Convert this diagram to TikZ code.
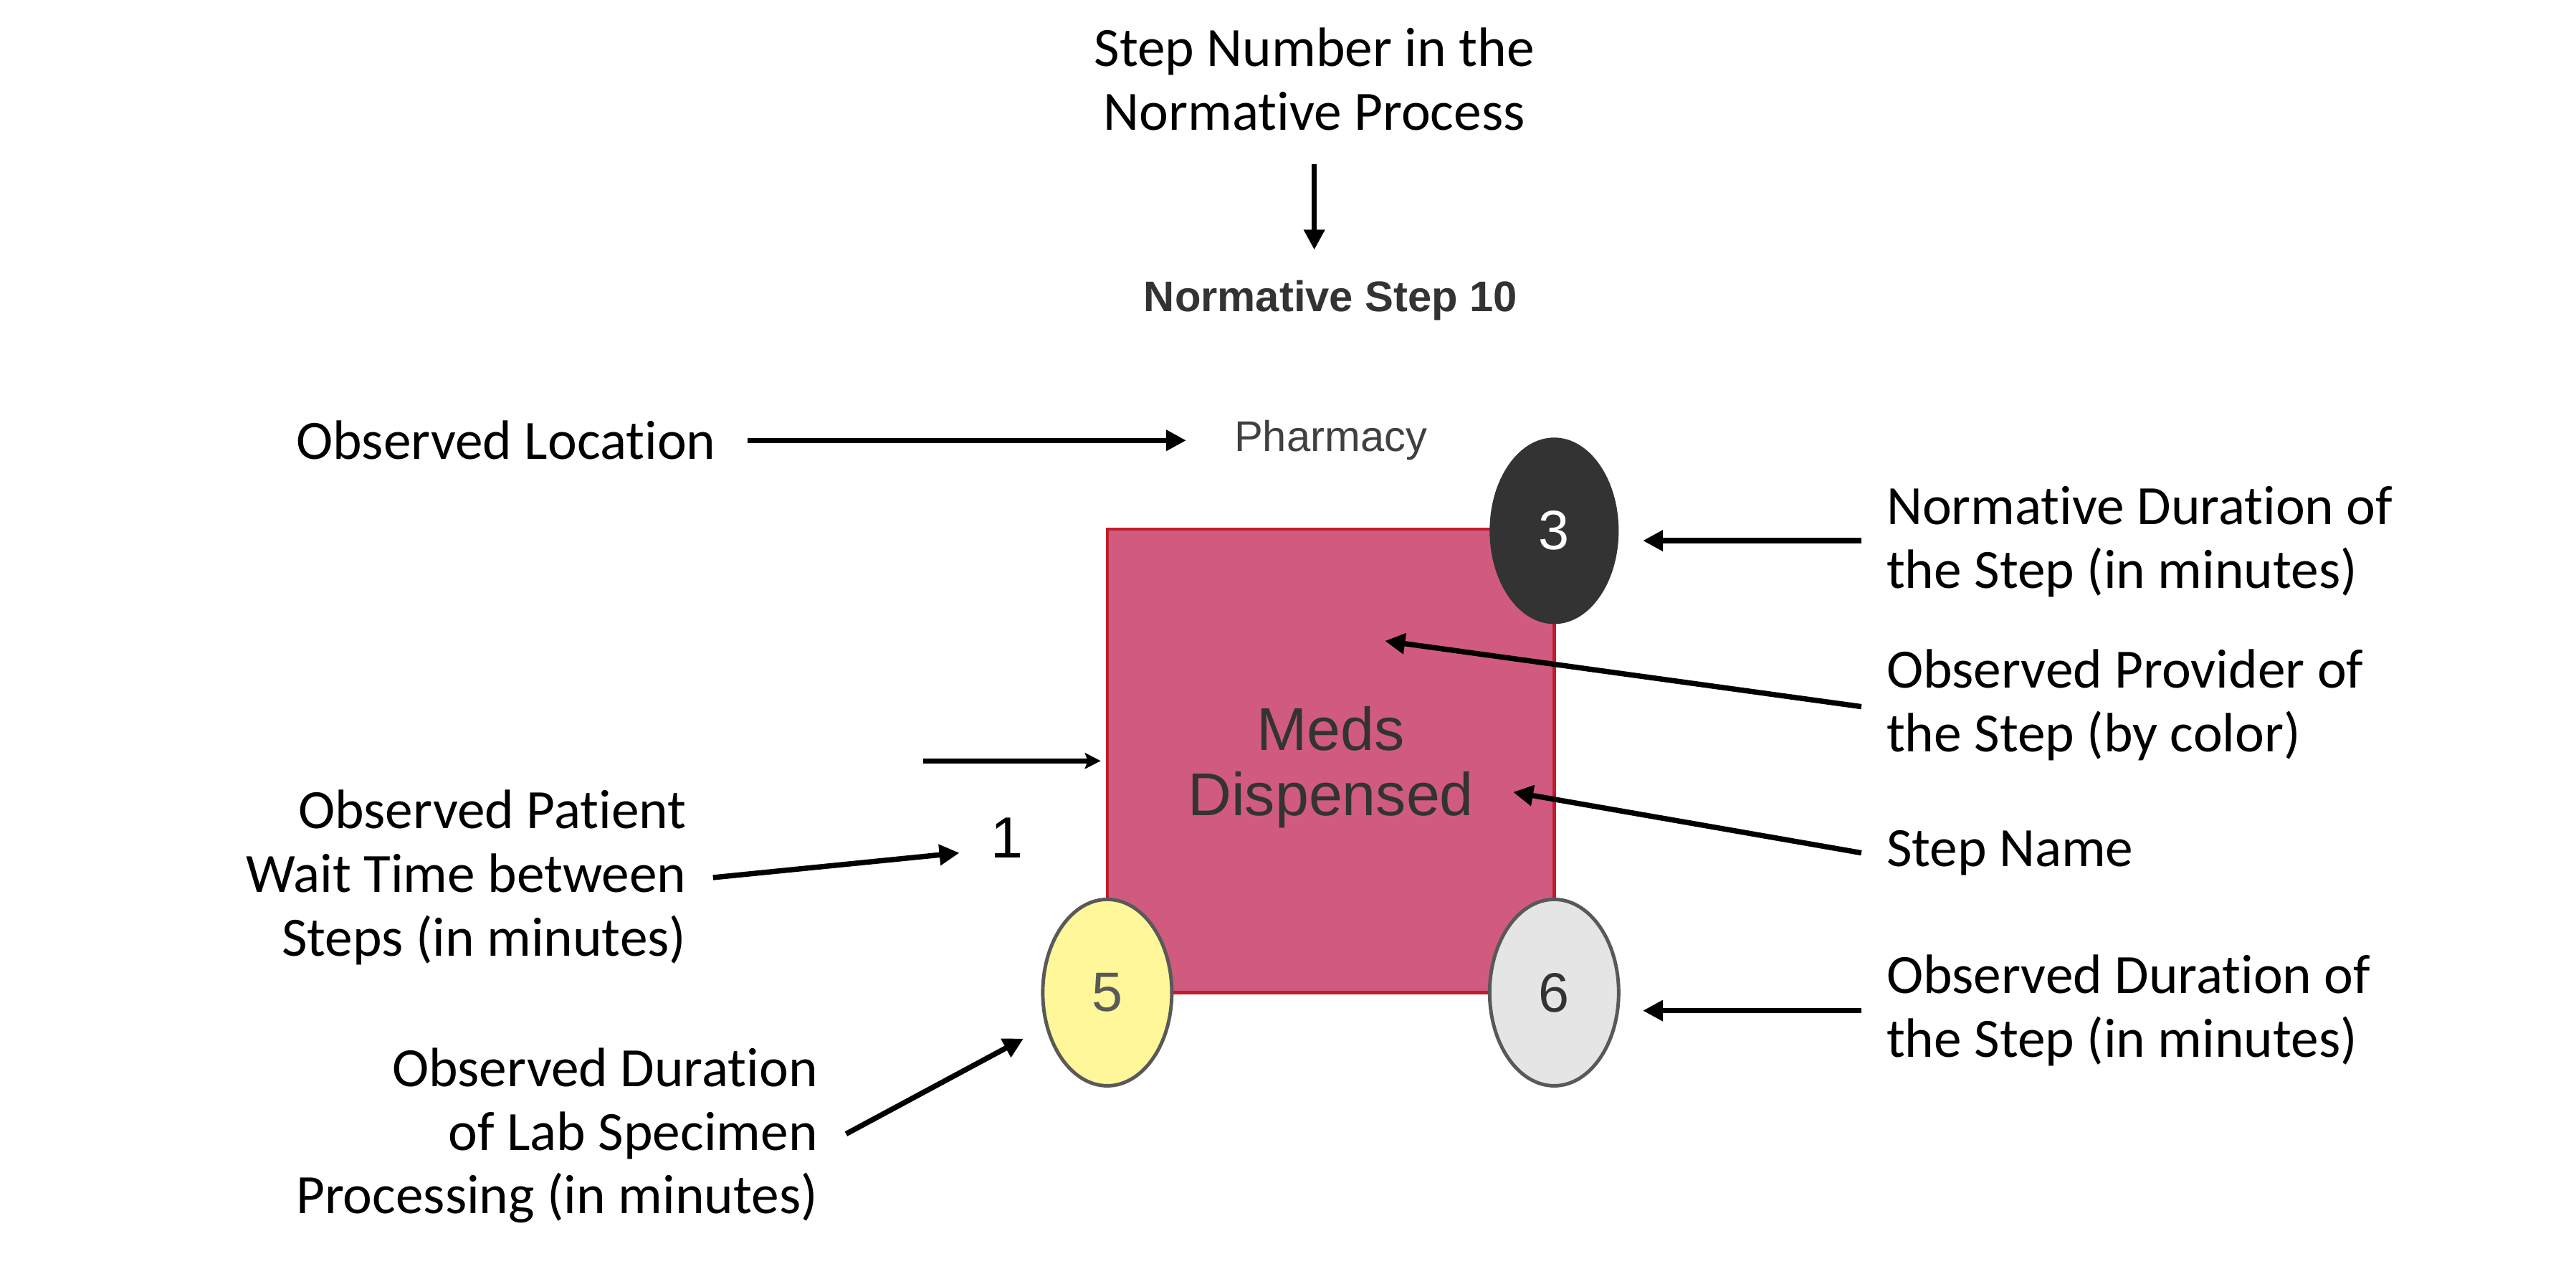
\documentclass[tikz,border=0pt]{standalone}
\usepackage{fontspec}
\setmainfont{Carlito}[RawFeature={-liga,-clig,-dlig,-calt}]
\newfontfamily\arialf{Liberation Sans}
\usetikzlibrary{arrows.meta,shapes.geometric}
\definecolor{boxfill}{HTML}{D05B7F}
\definecolor{boxline}{HTML}{BE1E2D}
\definecolor{darkell}{HTML}{333333}
\definecolor{yellell}{HTML}{FFF799}
\definecolor{grayell}{HTML}{E5E5E5}
\definecolor{ellline}{HTML}{595959}
\definecolor{txtdark}{HTML}{333333}
\definecolor{txtgray}{HTML}{404040}
\begin{document}
\begin{tikzpicture}[x=0.02292cm,y=-0.02292cm,
  lbl/.style={inner sep=0pt, font=\fontsize{22}{25.3}\selectfont, text=black},
  arr/.style={line width=2.1pt, draw=black, -{Triangle[length=0.28cm,width=0.28cm]}},
  thinarr/.style={line width=1.9pt, draw=black, -{Stealth[length=0.22cm,width=0.22cm,inset=0.04cm]}},
  stepbox/.style={rectangle, draw=boxline, fill=boxfill, line width=1.3pt,
     minimum width=6.234cm, minimum height=6.463cm, inner sep=0pt},
  ell/.style={ellipse, minimum width=1.80cm, minimum height=2.60cm, inner sep=0pt,
     font=\arialf\fontsize{22}{24}\selectfont},
]
\useasboundingbox (0,0) rectangle (1568,769);

% main box and corner ellipses
\node[stepbox] (box) at (810,463) {};
\node[inner sep=0pt, font=\arialf\fontsize{24}{26}\selectfont, text=txtdark, align=center] (bname) at (810,467) {Meds\\Dispensed};
\node[ell, fill=darkell, text=white] (e3) at (946,323) {3};
\node[ell, fill=yellell, draw=ellline, line width=1.4pt, text=ellline] (e5) at (674,604) {5};
\node[ell, fill=grayell, draw=ellline, line width=1.4pt, text=txtdark] (e6) at (946,604) {6};

% texts of the step
\node[inner sep=0pt, font=\arialf\bfseries\fontsize{17}{20}\selectfont, text=txtdark] (nstep) at (810,183) {Normative Step 10};
\node[inner sep=0pt, font=\arialf\fontsize{17}{20}\selectfont, text=txtgray] (pharm) at (810,268) {Pharmacy};
\node[inner sep=0pt, font=\arialf\fontsize{23}{26}\selectfont, text=black] (wait) at (613,510) {1};

% labels
\node[lbl, align=center] (stepnum) at (800,48) {Step Number in the\\Normative Process};
\node[lbl, anchor=west] (obsloc) at (180,268) {Observed Location};
\node[lbl, anchor=west, align=left] (ndur) at (1148,329.5) {Normative Duration of\\the Step (in minutes)};
\node[lbl, anchor=west, align=left] (prov) at (1148,429) {Observed Provider of\\the Step (by color)};
\node[lbl, anchor=west] (sname) at (1148,519) {Step Name};
\node[lbl, anchor=west, align=left] (odur) at (1148,615) {Observed Duration of\\the Step (in minutes)};
\node[lbl, anchor=east, align=right] (pwait) at (418,534) {Observed Patient\\Wait Time between\\Steps (in minutes)};
\node[lbl, anchor=east, align=right] (lab) at (498,691) {Observed Duration\\of Lab Specimen\\Processing (in minutes)};

% connector end points
\coordinate (stepnumtip) at (800,152);
\coordinate (stepnumtail) at (800,100);
\coordinate (loctail) at (455,268);
\coordinate (loctip) at (722,268);
\coordinate (ndurtail) at (1133,329);
\coordinate (ndurtip) at (1000,329);
\coordinate (provtail) at (1133,430);
\coordinate (provtip) at (843,390);
\coordinate (snametail) at (1133,519);
\coordinate (snametip) at (921,482);
\coordinate (odurtail) at (1133,615);
\coordinate (odurtip) at (1000,615);
\coordinate (intail) at (562,463);
\coordinate (intip) at (670,463);
\coordinate (waittail) at (434,534);
\coordinate (waittip) at (584,519);
\coordinate (labtail) at (515,690);
\coordinate (labtip) at (623,632);

% connectors
\draw[arr] (stepnumtail) -- (stepnumtip);
\draw[arr] (loctail) -- (loctip);
\draw[arr] (ndurtail) -- (ndurtip);
\draw[arr] (provtail) -- (provtip);
\draw[arr] (snametail) -- (snametip);
\draw[arr] (odurtail) -- (odurtip);
\draw[thinarr] (intail) -- (intip);
\draw[arr] (waittail) -- (waittip);
\draw[arr] (labtail) -- (labtip);
\end{tikzpicture}
\end{document}
